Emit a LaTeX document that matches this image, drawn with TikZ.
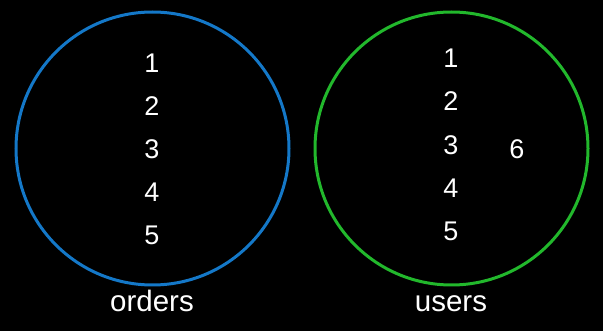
\documentclass[tikz,border=0pt]{standalone}
\usepackage{fontspec}
\setmainfont{Liberation Sans}
\definecolor{setblue}{RGB}{20,120,200}
\definecolor{setgreen}{RGB}{34,184,44}
\begin{document}
\begin{tikzpicture}[x=1pt,y=-1pt,
  setring/.style={line width=3pt},
  num/.style={text=white,font=\fontsize{27}{27}\selectfont,inner sep=0pt,anchor=base},
  lbl/.style={text=white,font=\fontsize{29.5}{29.5}\selectfont,inner sep=0pt,anchor=base}]
\fill[black] (0,0) rectangle (603,331);
\useasboundingbox (0,0) rectangle (603,331);
\draw[setring,setblue] (152.5,148.5) circle (136.5);
\draw[setring,setgreen] (451.5,148.5) circle (136.5);
\node[num] (o1) at (152,72.5) {1};
\node[num] (o2) at (152,115.5) {2};
\node[num] (o3) at (152,158.5) {3};
\node[num] (o4) at (152,201.5) {4};
\node[num] (o5) at (152,244.5) {5};
\node[num] (u1) at (451,67.5) {1};
\node[num] (u2) at (451,110.5) {2};
\node[num] (u3) at (451,154.5) {3};
\node[num] (u4) at (451,197.5) {4};
\node[num] (u5) at (451,240.5) {5};
\node[num] (u6) at (517,158.5) {6};
\node[lbl] (orders) at (152,312) {orders};
\node[lbl] (users) at (451,312) {users};
\end{tikzpicture}
\end{document}
